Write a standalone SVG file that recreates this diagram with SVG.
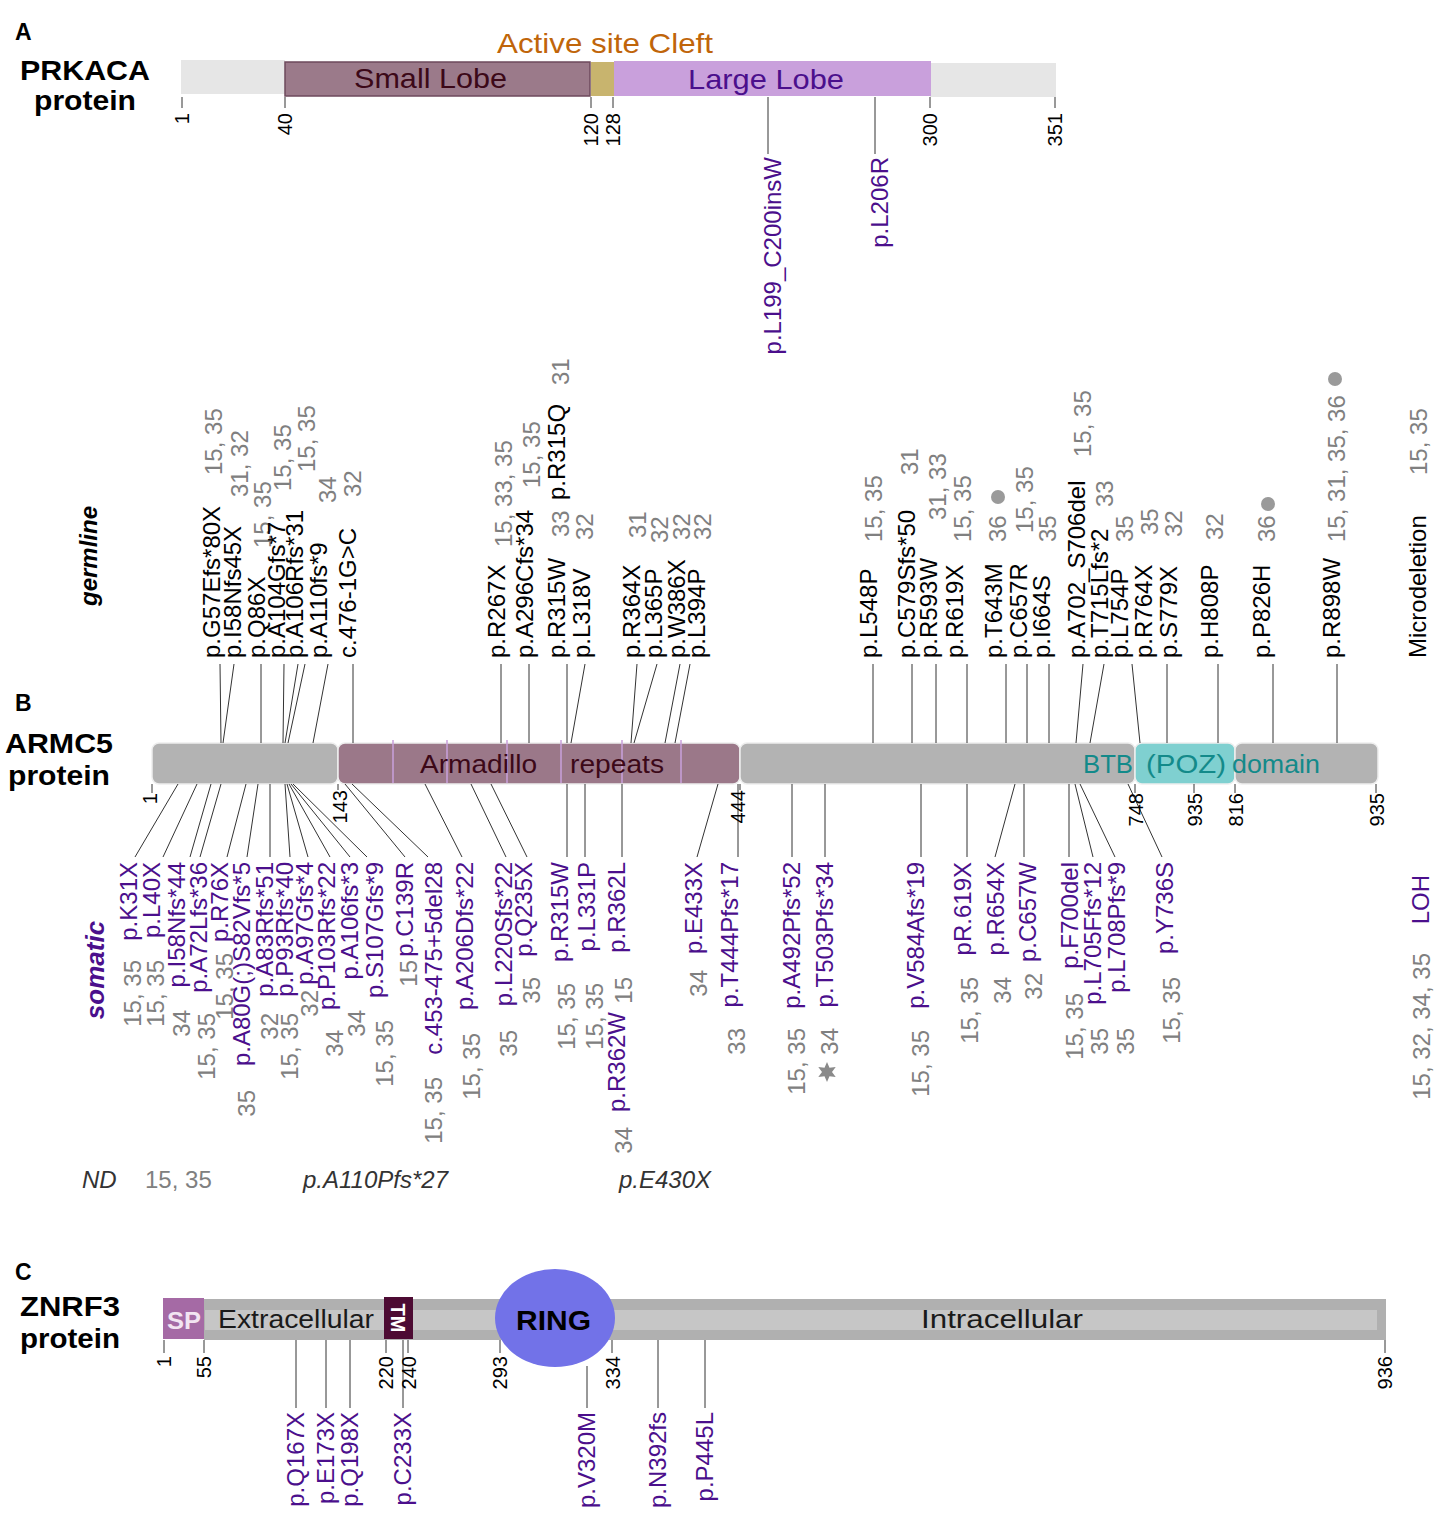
<svg xmlns="http://www.w3.org/2000/svg" width="1439" height="1519" viewBox="0 0 1439 1519">
<style>
text{font-family:"Liberation Sans",Arial,sans-serif}
.hd{font-weight:bold;font-size:28px;fill:#000}
.pl{font-weight:bold;font-size:23px;fill:#000}
.tk{font-size:20px;fill:#000}
.gl{font-size:24px;fill:#000}
.so{font-size:24px;fill:#4b0f8c}
.rf{font-size:24px;fill:#808080}
.so,.rf.e,.e{text-anchor:end}
.ln{stroke:#333;stroke-width:1;fill:none}
.dot{fill:#9a9a9a}
.it{font-size:24px;font-style:italic;fill:#333}
</style>

<!-- Panel A -->
<g id="panelA">
<text class="pl" x="15" y="40">A</text>
<text class="hd" x="20" y="80" textLength="130" lengthAdjust="spacingAndGlyphs">PRKACA</text>
<text class="hd" x="34" y="110" textLength="102" lengthAdjust="spacingAndGlyphs">protein</text>
</g>
<g id="prkaca-bar">
<rect x="181" y="60" width="104" height="34" fill="#e6e6e6"/>
<rect x="930" y="63" width="126" height="34" fill="#e6e6e6"/>
<rect x="285" y="62" width="305" height="34" fill="#9b7a8a" stroke="#6e4a5c" stroke-width="1.5"/>
<rect x="591" y="62" width="23" height="34" fill="#c8b46e"/>
<rect x="614" y="61" width="317" height="35" fill="#c9a0dc"/>
<text x="497" y="53" font-size="28" fill="#c0650a" textLength="216" lengthAdjust="spacingAndGlyphs">Active site Cleft</text>
<text x="354" y="88" font-size="28" fill="#3c0818" textLength="153" lengthAdjust="spacingAndGlyphs">Small Lobe</text>
<text x="688" y="89" font-size="28" fill="#4b0f8c" textLength="156" lengthAdjust="spacingAndGlyphs">Large Lobe</text>
</g>
<g id="prkaca-ticks">
<path class="ln" d="M182 97V108M285 97V108M591 97V108M613 97V108M930 97V108M1055 97V108"/>
<text class="tk e" transform="translate(189 113) rotate(-90)">1</text>
<text class="tk e" transform="translate(292 113) rotate(-90)">40</text>
<text class="tk e" transform="translate(598 113) rotate(-90)">120</text>
<text class="tk e" transform="translate(620 113) rotate(-90)">128</text>
<text class="tk e" transform="translate(937 113) rotate(-90)">300</text>
<text class="tk e" transform="translate(1062 113) rotate(-90)">351</text>
</g>
<g id="prkaca-mut">
<text class="so" transform="translate(781 157) rotate(-90)">p.L199_C200insW</text>
<text class="so" transform="translate(888 157) rotate(-90)">p.L206R</text>
</g>

<!-- Panel B -->
<g id="panelB">
<text class="pl" x="15" y="711">B</text>
<text class="hd" x="5" y="753" textLength="108" lengthAdjust="spacingAndGlyphs">ARMC5</text>
<text class="hd" x="8" y="785" textLength="102" lengthAdjust="spacingAndGlyphs">protein</text>
<text font-size="24" font-weight="bold" font-style="italic" text-anchor="middle" transform="translate(97 556) rotate(-90)">germline</text>
<text font-size="26" font-weight="bold" font-style="italic" fill="#4b0f8c" text-anchor="middle" transform="translate(104 970) rotate(-90)">somatic</text>
</g>
<g id="armc5-bar">
<rect x="152" y="743" width="186" height="41" rx="7" fill="#b3b3b3" stroke="#eeeeee" stroke-width="1.5"/>
<rect x="338" y="743" width="402" height="41" rx="7" fill="#9b7889" stroke="#eeeeee" stroke-width="1.5"/>
<rect x="740" y="743" width="395" height="41" rx="7" fill="#b3b3b3" stroke="#eeeeee" stroke-width="1.5"/>
<rect x="1135" y="743" width="100" height="41" rx="7" fill="#7fd0d0" stroke="#eeeeee" stroke-width="1.5"/>
<rect x="1235" y="743" width="143" height="41" rx="7" fill="#b3b3b3" stroke="#eeeeee" stroke-width="1.5"/>
<path d="M393 740V783M447 740V783M507 740V783M561 740V783M622 740V783M681 740V783" stroke="#c9a0dc" stroke-width="1.5"/>
<text font-size="26" fill="#3c0818" y="773"><tspan x="420" textLength="117" lengthAdjust="spacingAndGlyphs">Armadillo</tspan><tspan x="570" textLength="94" lengthAdjust="spacingAndGlyphs">repeats</tspan></text>
<text font-size="26" fill="#138a8a" y="773"><tspan x="1083" textLength="50" lengthAdjust="spacingAndGlyphs">BTB</tspan><tspan x="1146" textLength="80" lengthAdjust="spacingAndGlyphs">(POZ)</tspan><tspan x="1232" textLength="88" lengthAdjust="spacingAndGlyphs">domain</tspan></text>
</g>

<g id="connectors">
<path class="ln" d="M220 664L221 743M234 664L223 743M261 664L261 743M284 664L283 743M298 664L285 743M305 664L288 743M328 664L313 743M353 664L353 743
M501 664L501 743M529 664L529 743M567 664L567 743M585 664L571 743M637 664L631 743M657 664L634 743M680 664L665 743M690 664L675 743
M873 664L873 743M912 664L912 743M936 664L936 743M967 664L967 743M1006 664L1006 743M1027 664L1027 743M1049 664L1049 743M1083 664L1076 743M1104 664L1090 743M1132 664L1140 743
M1167 664L1167 743M1218 664L1218 743M1273 664L1273 743M1337 664L1337 743"/>
<path class="ln" d="M178 784L135 857M197 784L163 857M211 784L190 857M221 784L200 857M246 784L227 857M258 784L247 857M270 784L270 857M285 784L290 857M287 784L308 857M289 784L330 857M291 784L350 857M293 784L367 857M345 784L405 857M352 784L428 857
M425 784L462 857M471 784L506 857M491 784L527 857M567 784L567 857M585 784L585 857M622 784L622 857M718 784L697 857M738 784L738 857
M792 784L792 857M825 784L825 857M921 784L921 857M967 784L967 857M1015 784L995 857M1024 784L1024 857M1069 784L1069 857M1075 784L1093 857M1080 784L1115 857M1128 784L1162 857"/>
<path class="ln" d="M768 97V154M875 97V154"/>
<path class="ln" d="M296 1340V1408M326 1340V1408M350 1340V1408M403 1340V1408M587 1366V1408M658 1340V1408M705 1340V1408"/>
</g>

<g id="armc5-ticks">
<path class="ln" d="M152 784V793M338 784V790M740 784V790M1135 784V793M1194 784V793M1235 784V793M1376 784V793"/>
<text class="tk e" transform="translate(157 793) rotate(-90)">1</text>
<text class="tk e" transform="translate(347 790) rotate(-90)">143</text>
<text class="tk e" transform="translate(745 790) rotate(-90)">444</text>
<text class="tk e" transform="translate(1143 793) rotate(-90)">748</text>
<text class="tk e" transform="translate(1202 793) rotate(-90)">935</text>
<text class="tk e" transform="translate(1243 793) rotate(-90)">816</text>
<text class="tk e" transform="translate(1384 793) rotate(-90)">935</text>
</g>

<g id="germline">
<g id="g-G57"><text class="gl" transform="translate(220 658) rotate(-90)">p.G57Efs*80X</text><text class="rf" transform="translate(222 475) rotate(-90)">15, 35</text></g>
<g id="g-I58"><text class="gl" transform="translate(241 658) rotate(-90)">p.I58Nfs45X</text><text class="rf" transform="translate(248 497) rotate(-90)">31, 32</text></g>
<g id="g-Q86"><text class="gl" transform="translate(265 658) rotate(-90)">p.Q86X</text><text class="rf" transform="translate(271 548) rotate(-90)">15, 35</text></g>
<g id="g-A104"><text class="gl" transform="translate(285 658) rotate(-90)">p.A104Gfs*7</text><text class="rf" transform="translate(291 491) rotate(-90)">15, 35</text></g>
<g id="g-A106"><text class="gl" transform="translate(303 658) rotate(-90)">p.A106Rfs*31</text><text class="rf" transform="translate(315 472) rotate(-90)">15, 35</text></g>
<g id="g-A110"><text class="gl" transform="translate(327 658) rotate(-90)">p.A110fs*9</text><text class="rf" transform="translate(336 503) rotate(-90)">34</text></g>
<g id="g-c476"><text class="gl" transform="translate(356 658) rotate(-90)">c.476-1G&gt;C</text><text class="rf" transform="translate(361 497) rotate(-90)">32</text></g>
<g id="g-R267X"><text class="gl" transform="translate(505 658) rotate(-90)">p.R267X</text><text class="rf" transform="translate(512 547) rotate(-90)">15, 33, 35</text></g>
<g id="g-A296"><text class="gl" transform="translate(533 658) rotate(-90)">p.A296Cfs*34</text><text class="rf" transform="translate(540 488) rotate(-90)">15, 35</text></g>
<g id="g-R315"><text class="gl" transform="translate(565 658) rotate(-90)">p.R315W</text><text class="rf" transform="translate(569 537) rotate(-90)">33</text><text class="gl" transform="translate(565 500) rotate(-90)">p.R315Q</text><text class="rf" transform="translate(569 385) rotate(-90)">31</text></g>
<g id="g-L318V"><text class="gl" transform="translate(590 658) rotate(-90)">p.L318V</text><text class="rf" transform="translate(593 540) rotate(-90)">32</text></g>
<g id="g-R364X"><text class="gl" transform="translate(640 658) rotate(-90)">p.R364X</text><text class="rf" transform="translate(646 538) rotate(-90)">31</text></g>
<g id="g-L365P"><text class="gl" transform="translate(662 658) rotate(-90)">p.L365P</text><text class="rf" transform="translate(668 543) rotate(-90)">32</text></g>
<g id="g-W386X"><text class="gl" transform="translate(685 658) rotate(-90)">p.W386X</text><text class="rf" transform="translate(690 540) rotate(-90)">32</text></g>
<g id="g-L394P"><text class="gl" transform="translate(705 658) rotate(-90)">p.L394P</text><text class="rf" transform="translate(711 540) rotate(-90)">32</text></g>
<g id="g-L548P"><text class="gl" transform="translate(877 658) rotate(-90)">p.L548P</text><text class="rf" transform="translate(882 542) rotate(-90)">15, 35</text></g>
<g id="g-C579"><text class="gl" transform="translate(915 658) rotate(-90)">p.C579Sfs*50</text><text class="rf" transform="translate(918 475) rotate(-90)">31</text></g>
<g id="g-R593W"><text class="gl" transform="translate(937 658) rotate(-90)">p.R593W</text><text class="rf" transform="translate(946 520) rotate(-90)">31, 33</text></g>
<g id="g-R619X"><text class="gl" transform="translate(963 658) rotate(-90)">p.R619X</text><text class="rf" transform="translate(971 542) rotate(-90)">15, 35</text></g>
<g id="g-T643M"><text class="gl" transform="translate(1002 658) rotate(-90)">p.T643M</text><text class="rf" transform="translate(1006 542) rotate(-90)">36</text><circle class="dot" cx="998" cy="497" r="7"/></g>
<g id="g-C657R"><text class="gl" transform="translate(1027 658) rotate(-90)">p.C657R</text><text class="rf" transform="translate(1033 533) rotate(-90)">15, 35</text></g>
<g id="g-I664S"><text class="gl" transform="translate(1050 658) rotate(-90)">p.I664S</text><text class="rf" transform="translate(1056 542) rotate(-90)">35</text></g>
<g id="g-A702"><text class="gl" transform="translate(1085 658) rotate(-90)">p.A702_S706del</text><text class="rf" transform="translate(1091 457) rotate(-90)">15, 35</text></g>
<g id="g-T715"><text class="gl" transform="translate(1108 658) rotate(-90)">p.T715Lfs*2</text><text class="rf" transform="translate(1113 507) rotate(-90)">33</text></g>
<g id="g-L754P"><text class="gl" transform="translate(1128 658) rotate(-90)">p.L754P</text><text class="rf" transform="translate(1133 542) rotate(-90)">35</text></g>
<g id="g-R764X"><text class="gl" transform="translate(1152 658) rotate(-90)">p.R764X</text><text class="rf" transform="translate(1158 535) rotate(-90)">35</text></g>
<g id="g-S779X"><text class="gl" transform="translate(1177 658) rotate(-90)">p.S779X</text><text class="rf" transform="translate(1182 537) rotate(-90)">32</text></g>
<g id="g-H808P"><text class="gl" transform="translate(1218 658) rotate(-90)">p.H808P</text><text class="rf" transform="translate(1223 540) rotate(-90)">32</text></g>
<g id="g-P826H"><text class="gl" transform="translate(1270 658) rotate(-90)">p.P826H</text><text class="rf" transform="translate(1275 542) rotate(-90)">36</text><circle class="dot" cx="1268" cy="504" r="7"/></g>
<g id="g-R898W"><text class="gl" transform="translate(1340 658) rotate(-90)">p.R898W</text><text class="rf" transform="translate(1345 542) rotate(-90)">15, 31, 35, 36</text><circle class="dot" cx="1335" cy="379" r="7"/></g>
<g id="g-microdel"><text class="gl" transform="translate(1426 658) rotate(-90)">Microdeletion</text><text class="rf" transform="translate(1427 475) rotate(-90)">15, 35</text></g>
</g>

<g id="somatic">
<g id="s-K31X"><text class="so" transform="translate(137 862) rotate(-90)">p.K31X</text><text class="rf e" transform="translate(141 960) rotate(-90)">15, 35</text></g>
<g id="s-L40X"><text class="so" transform="translate(160 862) rotate(-90)">p.L40X</text><text class="rf e" transform="translate(164 960) rotate(-90)">15, 35</text></g>
<g id="s-I58"><text class="so" transform="translate(185 862) rotate(-90)">p.I58Nfs*44</text><text class="rf e" transform="translate(190 1010) rotate(-90)">34</text></g>
<g id="s-A72"><text class="so" transform="translate(207 862) rotate(-90)">p.A72Lfs*36</text><text class="rf e" transform="translate(215 1013) rotate(-90)">15, 35</text></g>
<g id="s-R76X"><text class="so" transform="translate(228 862) rotate(-90)">p.R76X</text><text class="rf e" transform="translate(233 953) rotate(-90)">15, 35</text></g>
<g id="s-A80G"><text class="so" transform="translate(250 862) rotate(-90)">p.A80G(;)S82Vfs*5</text><text class="rf e" transform="translate(255 1090) rotate(-90)">35</text></g>
<g id="s-A83"><text class="so" transform="translate(273 862) rotate(-90)">p.A83Rfs*51</text><text class="rf e" transform="translate(278 1013) rotate(-90)">32</text></g>
<g id="s-P93"><text class="so" transform="translate(293 862) rotate(-90)">p.P93Rfs*40</text><text class="rf e" transform="translate(298 1013) rotate(-90)">15, 35</text></g>
<g id="s-A97"><text class="so" transform="translate(313 862) rotate(-90)">p.A97Gfs*4</text><text class="rf e" transform="translate(318 990) rotate(-90)">32</text></g>
<g id="s-P103"><text class="so" transform="translate(335 862) rotate(-90)">p.P103Rfs*22</text><text class="rf e" transform="translate(343 1030) rotate(-90)">34</text></g>
<g id="s-A106"><text class="so" transform="translate(358 862) rotate(-90)">p.A106fs*3</text><text class="rf e" transform="translate(365 1010) rotate(-90)">34</text></g>
<g id="s-S107"><text class="so" transform="translate(383 862) rotate(-90)">p.S107Gfs*9</text><text class="rf e" transform="translate(393 1020) rotate(-90)">15, 35</text></g>
<g id="s-C139R"><text class="so" transform="translate(413 862) rotate(-90)">p.C139R</text><text class="rf e" transform="translate(417 960) rotate(-90)">15</text></g>
<g id="s-c453"><text class="so" transform="translate(442 862) rotate(-90)">c.453-475+5del28</text><text class="rf e" transform="translate(442 1077) rotate(-90)">15, 35</text></g>
<g id="s-A206"><text class="so" transform="translate(473 862) rotate(-90)">p.A206Dfs*22</text><text class="rf e" transform="translate(480 1033) rotate(-90)">15, 35</text></g>
<g id="s-L220"><text class="so" transform="translate(512 862) rotate(-90)">p.L220Sfs*22</text><text class="rf e" transform="translate(517 1030) rotate(-90)">35</text></g>
<g id="s-Q235X"><text class="so" transform="translate(532 862) rotate(-90)">p.Q235X</text><text class="rf e" transform="translate(540 977) rotate(-90)">35</text></g>
<g id="s-R315W"><text class="so" transform="translate(568 862) rotate(-90)">p.R315W</text><text class="rf e" transform="translate(575 983) rotate(-90)">15, 35</text></g>
<g id="s-L331P"><text class="so" transform="translate(595 862) rotate(-90)">p.L331P</text><text class="rf e" transform="translate(603 983) rotate(-90)">15, 35</text></g>
<g id="s-R362"><text class="so" transform="translate(625 862) rotate(-90)">p.R362L</text><text class="rf e" transform="translate(632 977) rotate(-90)">15</text><text class="so" transform="translate(625 1012) rotate(-90)">p.R362W</text><text class="rf e" transform="translate(632 1127) rotate(-90)">34</text></g>
<g id="s-E433X"><text class="so" transform="translate(702 862) rotate(-90)">p.E433X</text><text class="rf e" transform="translate(707 970) rotate(-90)">34</text></g>
<g id="s-T444"><text class="so" transform="translate(738 862) rotate(-90)">p.T444Pfs*17</text><text class="rf e" transform="translate(745 1028) rotate(-90)">33</text></g>
<g id="s-A492"><text class="so" transform="translate(800 862) rotate(-90)">p.A492Pfs*52</text><text class="rf e" transform="translate(805 1028) rotate(-90)">15, 35</text></g>
<g id="s-T503"><text class="so" transform="translate(833 862) rotate(-90)">p.T503Pfs*34</text><text class="rf e" transform="translate(838 1028) rotate(-90)">34</text><polygon fill="#8a8a8a" points="827,1062 829.5,1067.7 835.7,1067 832,1072 835.7,1077 829.5,1076.3 827,1082 824.5,1076.3 818.3,1077 822,1072 818.3,1067 824.5,1067.7"/></g>
<g id="s-V584"><text class="so" transform="translate(924 862) rotate(-90)">p.V584Afs*19</text><text class="rf e" transform="translate(929 1030) rotate(-90)">15, 35</text></g>
<g id="s-R619X"><text class="so" transform="translate(971 862) rotate(-90)">pR.619X</text><text class="rf e" transform="translate(978 977) rotate(-90)">15, 35</text></g>
<g id="s-R654X"><text class="so" transform="translate(1004 862) rotate(-90)">p.R654X</text><text class="rf e" transform="translate(1011 977) rotate(-90)">34</text></g>
<g id="s-C657W"><text class="so" transform="translate(1036 862) rotate(-90)">p.C657W</text><text class="rf e" transform="translate(1042 973) rotate(-90)">32</text></g>
<g id="s-F700"><text class="so" transform="translate(1078 862) rotate(-90)">p.F700del</text><text class="rf e" transform="translate(1083 993) rotate(-90)">15, 35</text></g>
<g id="s-L705"><text class="so" transform="translate(1101 862) rotate(-90)">p.L705Ffs*12</text><text class="rf e" transform="translate(1108 1028) rotate(-90)">35</text></g>
<g id="s-L708"><text class="so" transform="translate(1125 862) rotate(-90)">p.L708Pfs*9</text><text class="rf e" transform="translate(1134 1028) rotate(-90)">35</text></g>
<g id="s-Y736S"><text class="so" transform="translate(1173 862) rotate(-90)">p.Y736S</text><text class="rf e" transform="translate(1180 977) rotate(-90)">15, 35</text></g>
<g id="s-LOH"><text class="so" transform="translate(1429 875) rotate(-90)">LOH</text><text class="rf e" transform="translate(1430 953) rotate(-90)">15, 32, 34, 35</text></g>
</g>

<g id="nd-row">
<text class="it" x="82" y="1188">ND</text>
<text class="rf" x="145" y="1188">15, 35</text>
<text class="it" x="303" y="1188">p.A110Pfs*27</text>
<text class="it" x="619" y="1188">p.E430X</text>
</g>

<!-- Panel C -->
<g id="panelC">
<text class="pl" x="15" y="1280">C</text>
<text class="hd" x="20" y="1316" textLength="100" lengthAdjust="spacingAndGlyphs">ZNRF3</text>
<text class="hd" x="20" y="1348" textLength="100" lengthAdjust="spacingAndGlyphs">protein</text>
</g>
<g id="znrf3-bar">
<rect x="204" y="1299" width="1182" height="41" fill="#b0b0b0"/>
<rect x="205" y="1310" width="1172" height="20" fill="#c6c6c6"/>
<rect x="163" y="1298" width="41" height="41" fill="#a56aa5"/>
<text x="167" y="1329" font-size="24" font-weight="bold" fill="#f2e4f2" textLength="34" lengthAdjust="spacingAndGlyphs">SP</text>
<text x="218" y="1328" font-size="26" fill="#1a1a1a" textLength="156" lengthAdjust="spacingAndGlyphs">Extracellular</text>
<rect x="384" y="1297" width="29" height="42" fill="#4d0b33"/>
<text font-size="20" font-weight="bold" fill="#ffffff" text-anchor="middle" transform="translate(391 1318) rotate(90)">TM</text>
<text x="921" y="1328" font-size="26" fill="#1a1a1a" textLength="162" lengthAdjust="spacingAndGlyphs">Intracellular</text>
</g>
<g id="ring">
<ellipse cx="555" cy="1318" rx="60" ry="49" fill="#7272e8"/>
<text x="516" y="1330" font-size="28" font-weight="bold" fill="#000" textLength="75" lengthAdjust="spacingAndGlyphs">RING</text>
</g>
<g id="znrf3-ticks">
<path class="ln" d="M164 1340V1353M204 1340V1353M386 1340V1353M408 1340V1353M500 1340V1353M612 1340V1353M1385 1340V1353"/>
<text class="tk e" transform="translate(171 1356) rotate(-90)">1</text>
<text class="tk e" transform="translate(211 1356) rotate(-90)">55</text>
<text class="tk e" transform="translate(393 1356) rotate(-90)">220</text>
<text class="tk e" transform="translate(416 1356) rotate(-90)">240</text>
<text class="tk e" transform="translate(507 1356) rotate(-90)">293</text>
<text class="tk e" transform="translate(620 1356) rotate(-90)">334</text>
<text class="tk e" transform="translate(1392 1356) rotate(-90)">936</text>
</g>
<g id="znrf3-mut">
<text class="so" transform="translate(304 1412) rotate(-90)">p.Q167X</text>
<text class="so" transform="translate(334 1412) rotate(-90)">p.E173X</text>
<text class="so" transform="translate(358 1412) rotate(-90)">p.Q198X</text>
<text class="so" transform="translate(411 1412) rotate(-90)">p.C233X</text>
<text class="so" transform="translate(595 1412) rotate(-90)">p.V320M</text>
<text class="so" transform="translate(666 1412) rotate(-90)">p.N392fs</text>
<text class="so" transform="translate(713 1412) rotate(-90)">p.P445L</text>
</g>
</svg>
